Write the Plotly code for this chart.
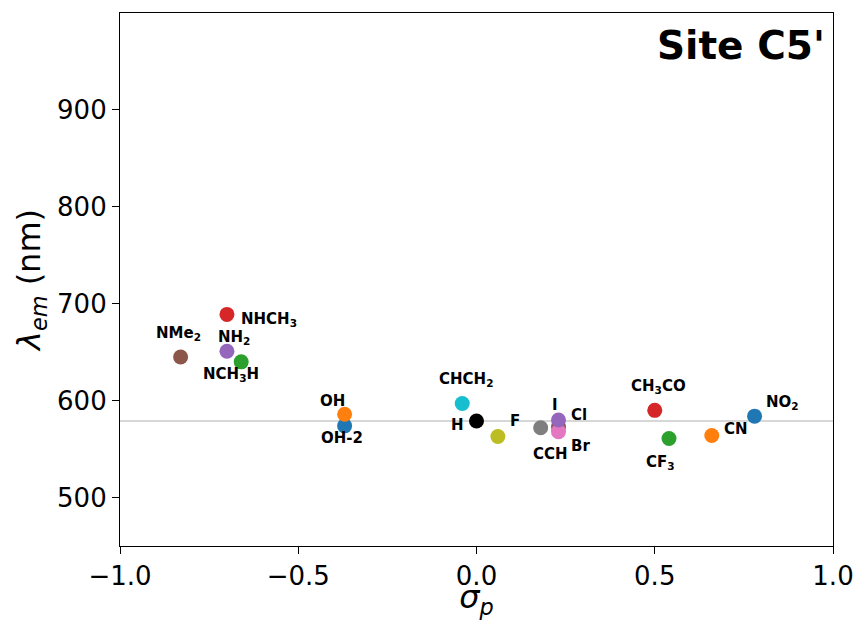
import plotly.graph_objects as go

labels = ["OH-2", "OH", "NCH<sub>3</sub>H", "NHCH<sub>3</sub>", "NH<sub>2</sub>", "NMe<sub>2</sub>",
          "Cl", "Br", "CCH", "F", "CHCH<sub>2</sub>", "NO<sub>2</sub>", "CN", "CF<sub>3</sub>",
          "CH<sub>3</sub>CO", "I", "H"]
sigma_p = [-0.37, -0.37, -0.66, -0.70, -0.70, -0.83,
           0.23, 0.23, 0.18, 0.06, -0.04, 0.78, 0.66, 0.54,
           0.50, 0.23, 0.0]
lambda_em = [574, 586, 640, 689, 651, 645,
             573, 568, 572, 563, 597, 584, 564, 561,
             590, 580, 579]
colors = ["#1f77b4", "#ff7f0e", "#2ca02c", "#d62728", "#9467bd", "#8c564b",
          "#8c564b", "#e377c2", "#7f7f7f", "#bcbd22", "#17becf", "#1f77b4", "#ff7f0e", "#2ca02c",
          "#d62728", "#9467bd", "#000000"]
# label offsets in pixels (dx, dy) relative to the point, and anchors
offsets = [(-3, 12, "center"), (-12, -13, "center"), (-10, 13, "center"), (12, 5, "left"),
           (7, -14, "center"), (-2, -24, "center"),
           (20, -12, "center"), (22, 14, "center"), (10, 26, "center"), (17, -15, "center"),
           (4, -24, "center"), (28, -14, "center"), (24, -7, "center"), (-9, 24, "center"),
           (4, -24, "center"), (-4, -15, "center"), (-19, 4, "center")]
h_ref = 579
x_ticks = [-1.0, -0.5, 0.0, 0.5, 1.0]
y_ticks = [500, 600, 700, 800, 900]

fig = go.Figure()
fig.add_shape(type="line", xref="paper", x0=0, x1=1, yref="y", y0=h_ref, y1=h_ref,
              line=dict(color="#b0b0b0", width=1.2), layer="below")
for lab, x, y, c in zip(labels, sigma_p, lambda_em, colors):
    fig.add_trace(go.Scatter(x=[x], y=[y], mode="markers",
                             marker=dict(size=15, color=c, line=dict(width=0)),
                             showlegend=False, hoverinfo="skip"))
for lab, x, y, (dx, dy, anc) in zip(labels, sigma_p, lambda_em, offsets):
    fig.add_annotation(x=x, y=y, text="<b>" + lab + "</b>", showarrow=False,
                       xshift=dx, yshift=-dy, xanchor=anc, yanchor="middle",
                       font=dict(family="DejaVu Sans", size=15, color="black"))

fig.add_annotation(xref="paper", yref="paper", x=0.992, y=0.985, xanchor="right", yanchor="top",
                   text="<b>Site C5'</b>", showarrow=False,
                   font=dict(family="DejaVu Sans", size=39, color="black"))

axis_common = dict(showgrid=False, zeroline=False, showline=True, linecolor="black", linewidth=1.2,
                   mirror=True, ticks="outside", ticklen=7, tickwidth=1.2, tickcolor="black",
                   automargin=False,
                   tickfont=dict(family="DejaVu Sans", size=26, color="black"))
fig.update_xaxes(range=[-1, 1], tickvals=x_ticks, tickformat=".1f",
                 title=dict(text="<i>σ<sub>p</sub></i>", font=dict(family="DejaVu Sans", size=32, color="black"),
                            standoff=4), **axis_common)
fig.update_yaxes(range=[450, 1000], tickvals=y_ticks,
                 title=dict(text="<i>λ<sub>em</sub></i> (nm)", font=dict(family="DejaVu Sans", size=32, color="black"),
                            standoff=6), **axis_common)
fig.update_layout(width=856, height=620, margin=dict(l=120, r=23, t=13, b=74),
                  paper_bgcolor="white", plot_bgcolor="white",
                  font=dict(family="DejaVu Sans"))
fig.write_html("out.html")
